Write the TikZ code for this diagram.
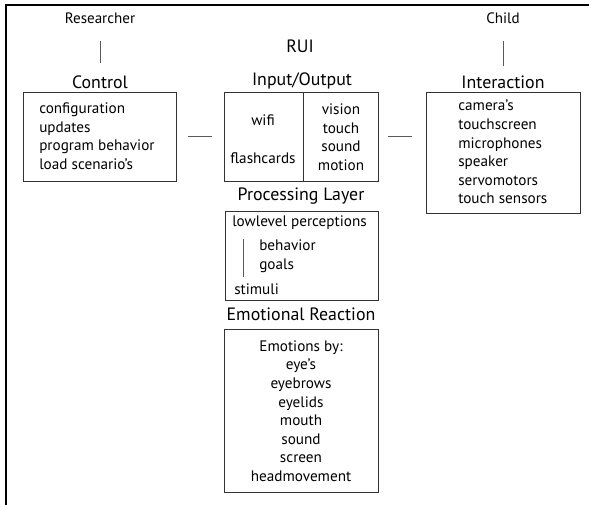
\documentclass[tikz,border=0pt]{standalone}
\usepackage{fontspec}
\setmainfont{PT Sans}
\begin{document}
\begin{tikzpicture}
    [x=0.75pt,y=-0.75pt,
     actor/.style={inner sep=0pt,font=\fontsize{11.3}{13}\selectfont},
     titel/.style={inner sep=0pt,font=\fontsize{13.4}{16}\selectfont},
     tekst/.style={inner sep=0pt,font=\fontsize{11.4}{13.9}\selectfont},
     doos/.style={draw=black!80,line width=0.7pt},
     lijn/.style={draw=black!65,line width=0.7pt} ]

    \useasboundingbox (0,0) rectangle (589,505);
    \draw[line width=2pt] (6,505) -- (6,5) -- (589,5);

    \node[actor] (res) at (100,18) {Researcher};
    \node[actor] (child) at (503,18) {Child};
    \node[titel] (rui) at (300,46) {RUI};

    \node[titel] (tcontrol) at (100,82) {Control};
    \node[titel] (tio) at (302,81) {Input/Output};
    \node[titel] (tinter) at (503,82) {Interaction};
    \node[titel] (tproc) at (301,196) {Processing Layer};
    \node[titel] (temo) at (301,314) {Emotional Reaction};

    \node[doos,minimum width=114.75pt,minimum height=66.75pt] (control) at (99.5,136.5) {};
    \node[doos,minimum width=115.5pt,minimum height=66.75pt] (io) at (301,136.5) {};
    \node[doos,minimum width=115.5pt,minimum height=90.75pt] (inter) at (503,152.5) {};
    \node[doos,minimum width=114.75pt,minimum height=66.75pt] (proc) at (301.5,255.5) {};
    \node[doos,minimum width=115.5pt,minimum height=122.25pt] (emo) at (301,410.5) {};

    \node[tekst,anchor=west,align=left] (ctext) at (39,136)
        {configuration\\updates\\program behavior\\load scenario's};
    \node[tekst] (wifi) at (263,120) {wifi};
    \node[tekst] (flash) at (263,158) {flashcards};
    \node[tekst,align=center] (sense) at (341,137) {vision\\touch\\sound\\motion};
    \node[tekst,anchor=west,align=left] (itext) at (458,152)
        {camera's\\touchscreen\\microphones\\speaker\\servomotors\\touch sensors};
    \node[tekst,anchor=west] (low) at (232,223) {lowlevel perceptions};
    \node[tekst,anchor=west,align=left] (beh) at (259,256) {behavior\\goals};
    \node[tekst,anchor=west] (stim) at (234,289) {stimuli};
    \node[tekst,align=center] (etext) at (301,411)
        {Emotions by:\\eye’s\\eyebrows\\eyelids\\mouth\\sound\\screen\\headmovement};

    \draw[doos] (303,92) -- (303,181);
    \draw[lijn] (243,239) -- (243,277);

    \draw[lijn,shorten <=13pt,shorten >=9pt] (res.south) -- (tcontrol.north);
    \draw[lijn,shorten <=13pt,shorten >=7pt] (child.south) -- (tinter.north);
    \draw[lijn,shorten <=9pt,shorten >=9pt] (control.east) -- (io.west);
    \draw[lijn,shorten <=7pt,shorten >=10pt] (io.east) -- (io.east -| inter.west);

\end{tikzpicture}
\end{document}
